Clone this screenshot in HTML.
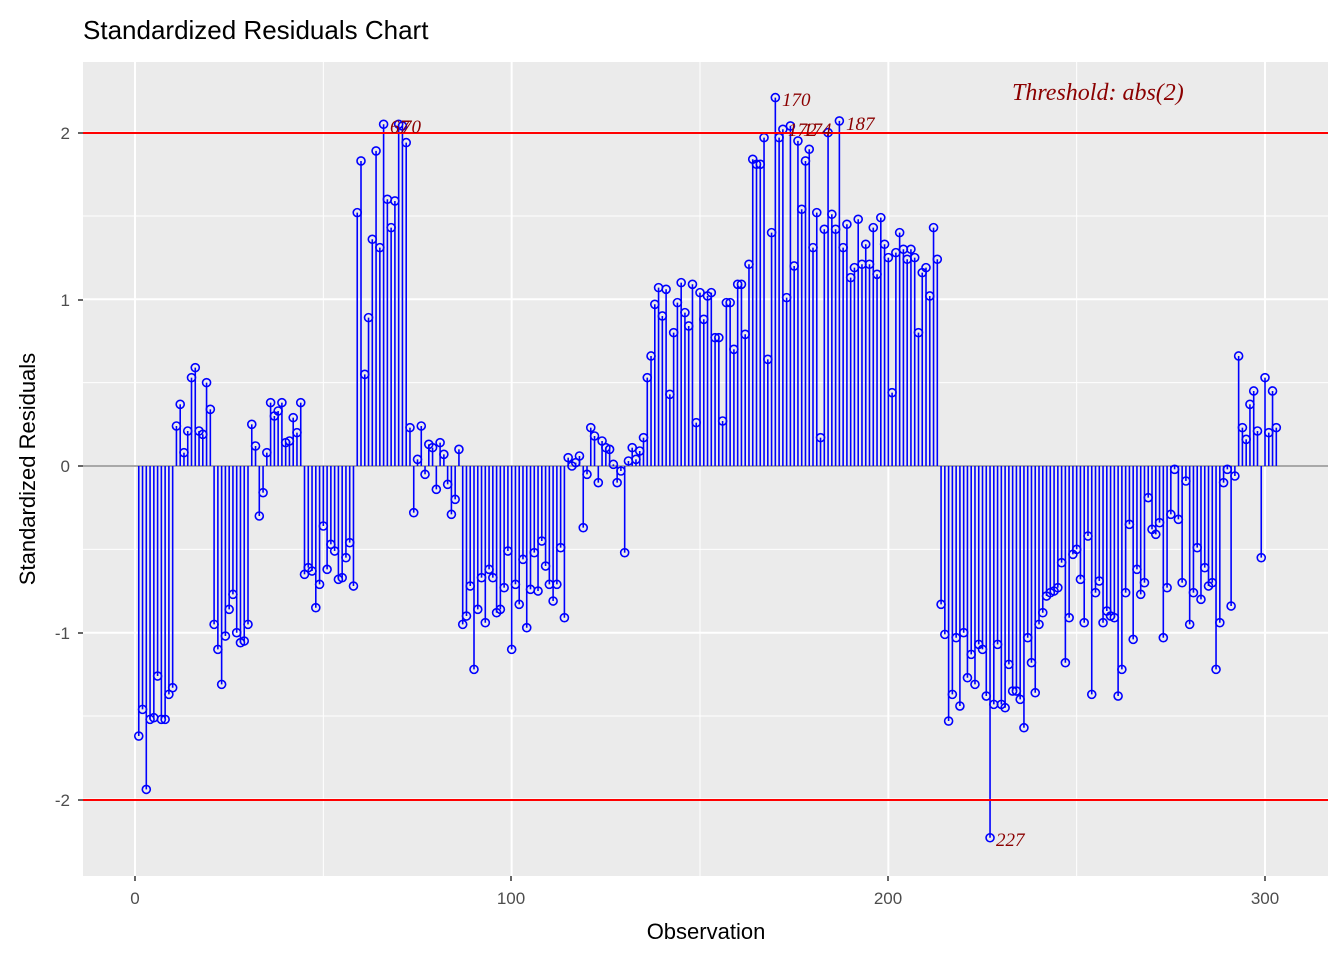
<!DOCTYPE html>
<html><head><meta charset="utf-8"><style>body{margin:0;background:#fff}svg text{font-family:"Liberation Sans",sans-serif}svg text.s{font-family:"Liberation Serif",serif;font-style:italic}</style></head>
<body>
<svg id="s" width="1344" height="960" xmlns="http://www.w3.org/2000/svg">
<rect x="83" y="62" width="1245" height="814" fill="#EBEBEB"/>
<g id="grid"></g>
<line x1="83" x2="1328" y1="466" y2="466" stroke="#A8A8A8" stroke-width="2"/>
<g id="data"></g>
<line x1="83" x2="1328" y1="133" y2="133" stroke="#FF0000" stroke-width="2"/>
<line x1="83" x2="1328" y1="800" y2="800" stroke="#FF0000" stroke-width="2"/>
<g fill="#8B0000" font-size="19">
<text class="s" x="1012" y="100" font-size="24">Threshold: abs(2)</text>
<text class="s" x="390" y="133">67</text><text class="s" x="402" y="133">70</text>
<text class="s" x="782" y="106">170</text><text class="s" x="788" y="136">172</text><text class="s" x="803" y="136">174</text>
<text class="s" x="846" y="130">187</text><text class="s" x="996" y="846">227</text>
</g>
<g font-size="17" fill="#4D4D4D" text-anchor="end">
<text x="70" y="139">2</text><text x="70" y="306">1</text><text x="70" y="472">0</text><text x="70" y="639">-1</text><text x="70" y="806">-2</text>
</g>
<g font-size="17" fill="#4D4D4D" text-anchor="middle">
<text x="135" y="904">0</text><text x="511" y="904">100</text><text x="888" y="904">200</text><text x="1265" y="904">300</text>
</g>
<g stroke="#333" stroke-width="1.5">
<line x1="78" x2="83" y1="133" y2="133"/><line x1="78" x2="83" y1="300" y2="300"/><line x1="78" x2="83" y1="466" y2="466"/><line x1="78" x2="83" y1="633" y2="633"/><line x1="78" x2="83" y1="800" y2="800"/>
<line x1="135" x2="135" y1="876" y2="881"/><line x1="511" x2="511" y1="876" y2="881"/><line x1="888" x2="888" y1="876" y2="881"/><line x1="1265" x2="1265" y1="876" y2="881"/>
</g>
<text x="706" y="939" font-size="22" text-anchor="middle">Observation</text>
<text transform="translate(35,469) rotate(-90)" font-size="22" text-anchor="middle">Standardized Residuals</text>
<text x="83" y="39" font-size="26">Standardized Residuals Chart</text>
</svg>
<script>
var v=[-1.62,-1.46,-1.94,-1.52,-1.51,-1.26,-1.52,-1.52,-1.37,-1.33,0.24,0.37,0.08,0.21,0.53,0.59,0.21,0.19,0.5,0.34,-0.95,-1.1,-1.31,-1.02,-0.86,-0.77,-1.0,-1.06,-1.05,-0.95,0.25,0.12,-0.3,-0.16,0.08,0.38,0.3,0.33,0.38,0.14,0.15,0.29,0.2,0.38,-0.65,-0.61,-0.63,-0.85,-0.71,-0.36,-0.62,-0.47,-0.51,-0.68,-0.67,-0.55,-0.46,-0.72,1.52,1.83,0.55,0.89,1.36,1.89,1.31,2.05,1.6,1.43,1.59,2.05,2.04,1.94,0.23,-0.28,0.04,0.24,-0.05,0.13,0.11,-0.14,0.14,0.07,-0.11,-0.29,-0.2,0.1,-0.95,-0.9,-0.72,-1.22,-0.86,-0.67,-0.94,-0.62,-0.67,-0.88,-0.86,-0.73,-0.51,-1.1,-0.71,-0.83,-0.56,-0.97,-0.74,-0.52,-0.75,-0.45,-0.6,-0.71,-0.81,-0.71,-0.49,-0.91,0.05,0,0.02,0.06,-0.37,-0.05,0.23,0.18,-0.1,0.15,0.11,0.1,0.01,-0.1,-0.03,-0.52,0.03,0.11,0.04,0.09,0.17,0.53,0.66,0.97,1.07,0.9,1.06,0.43,0.8,0.98,1.1,0.92,0.84,1.09,0.26,1.04,0.88,1.02,1.04,0.77,0.77,0.27,0.98,0.98,0.7,1.09,1.09,0.79,1.21,1.84,1.81,1.81,1.97,0.64,1.4,2.21,1.97,2.02,1.01,2.04,1.2,1.95,1.54,1.83,1.9,1.31,1.52,0.17,1.42,2.0,1.51,1.42,2.07,1.31,1.45,1.13,1.19,1.48,1.21,1.33,1.21,1.43,1.15,1.49,1.33,1.25,0.44,1.28,1.4,1.3,1.24,1.3,1.25,0.8,1.16,1.19,1.02,1.43,1.24,-0.83,-1.01,-1.53,-1.37,-1.03,-1.44,-1.0,-1.27,-1.13,-1.31,-1.07,-1.1,-1.38,-2.23,-1.43,-1.07,-1.43,-1.45,-1.19,-1.35,-1.35,-1.4,-1.57,-1.03,-1.18,-1.36,-0.95,-0.88,-0.78,-0.76,-0.75,-0.73,-0.58,-1.18,-0.91,-0.53,-0.5,-0.68,-0.94,-0.42,-1.37,-0.76,-0.69,-0.94,-0.87,-0.9,-0.91,-1.38,-1.22,-0.76,-0.35,-1.04,-0.62,-0.77,-0.7,-0.19,-0.38,-0.41,-0.34,-1.03,-0.73,-0.29,-0.02,-0.32,-0.7,-0.09,-0.95,-0.76,-0.49,-0.8,-0.61,-0.72,-0.7,-1.22,-0.94,-0.1,-0.02,-0.84,-0.06,0.66,0.23,0.16,0.37,0.45,0.21,-0.55,0.53,0.2,0.45,0.23];
var NS="http://www.w3.org/2000/svg",g=document.getElementById('grid'),d=document.getElementById('data');
function el(p,t,a){var e=document.createElementNS(NS,t);for(var k in a)e.setAttribute(k,a[k]);p.appendChild(e);return e;}
var X=function(i){return 135+3.7667*i},Y=function(y){return 466-166.7*y};
[-1.5,-0.5,0.5,1.5].forEach(function(y){el(g,'line',{x1:83,x2:1328,y1:Y(y),y2:Y(y),stroke:'#fff','stroke-width':1})});
[50,150,250].forEach(function(x){el(g,'line',{y1:62,y2:876,x1:X(x),x2:X(x),stroke:'#fff','stroke-width':1})});
[-2,-1,0,1,2].forEach(function(y){el(g,'line',{x1:83,x2:1328,y1:Y(y),y2:Y(y),stroke:'#fff','stroke-width':2})});
[0,100,200,300].forEach(function(x){el(g,'line',{y1:62,y2:876,x1:X(x),x2:X(x),stroke:'#fff','stroke-width':2})});
v.forEach(function(y,i){var x=X(i+1);el(d,'line',{x1:x,x2:x,y1:466,y2:Y(y),stroke:'#0000FF','stroke-width':1.6});});
v.forEach(function(y,i){el(d,'circle',{cx:X(i+1),cy:Y(y),r:4,fill:'none',stroke:'#0000FF','stroke-width':1.6});});
</script>
</body></html>
